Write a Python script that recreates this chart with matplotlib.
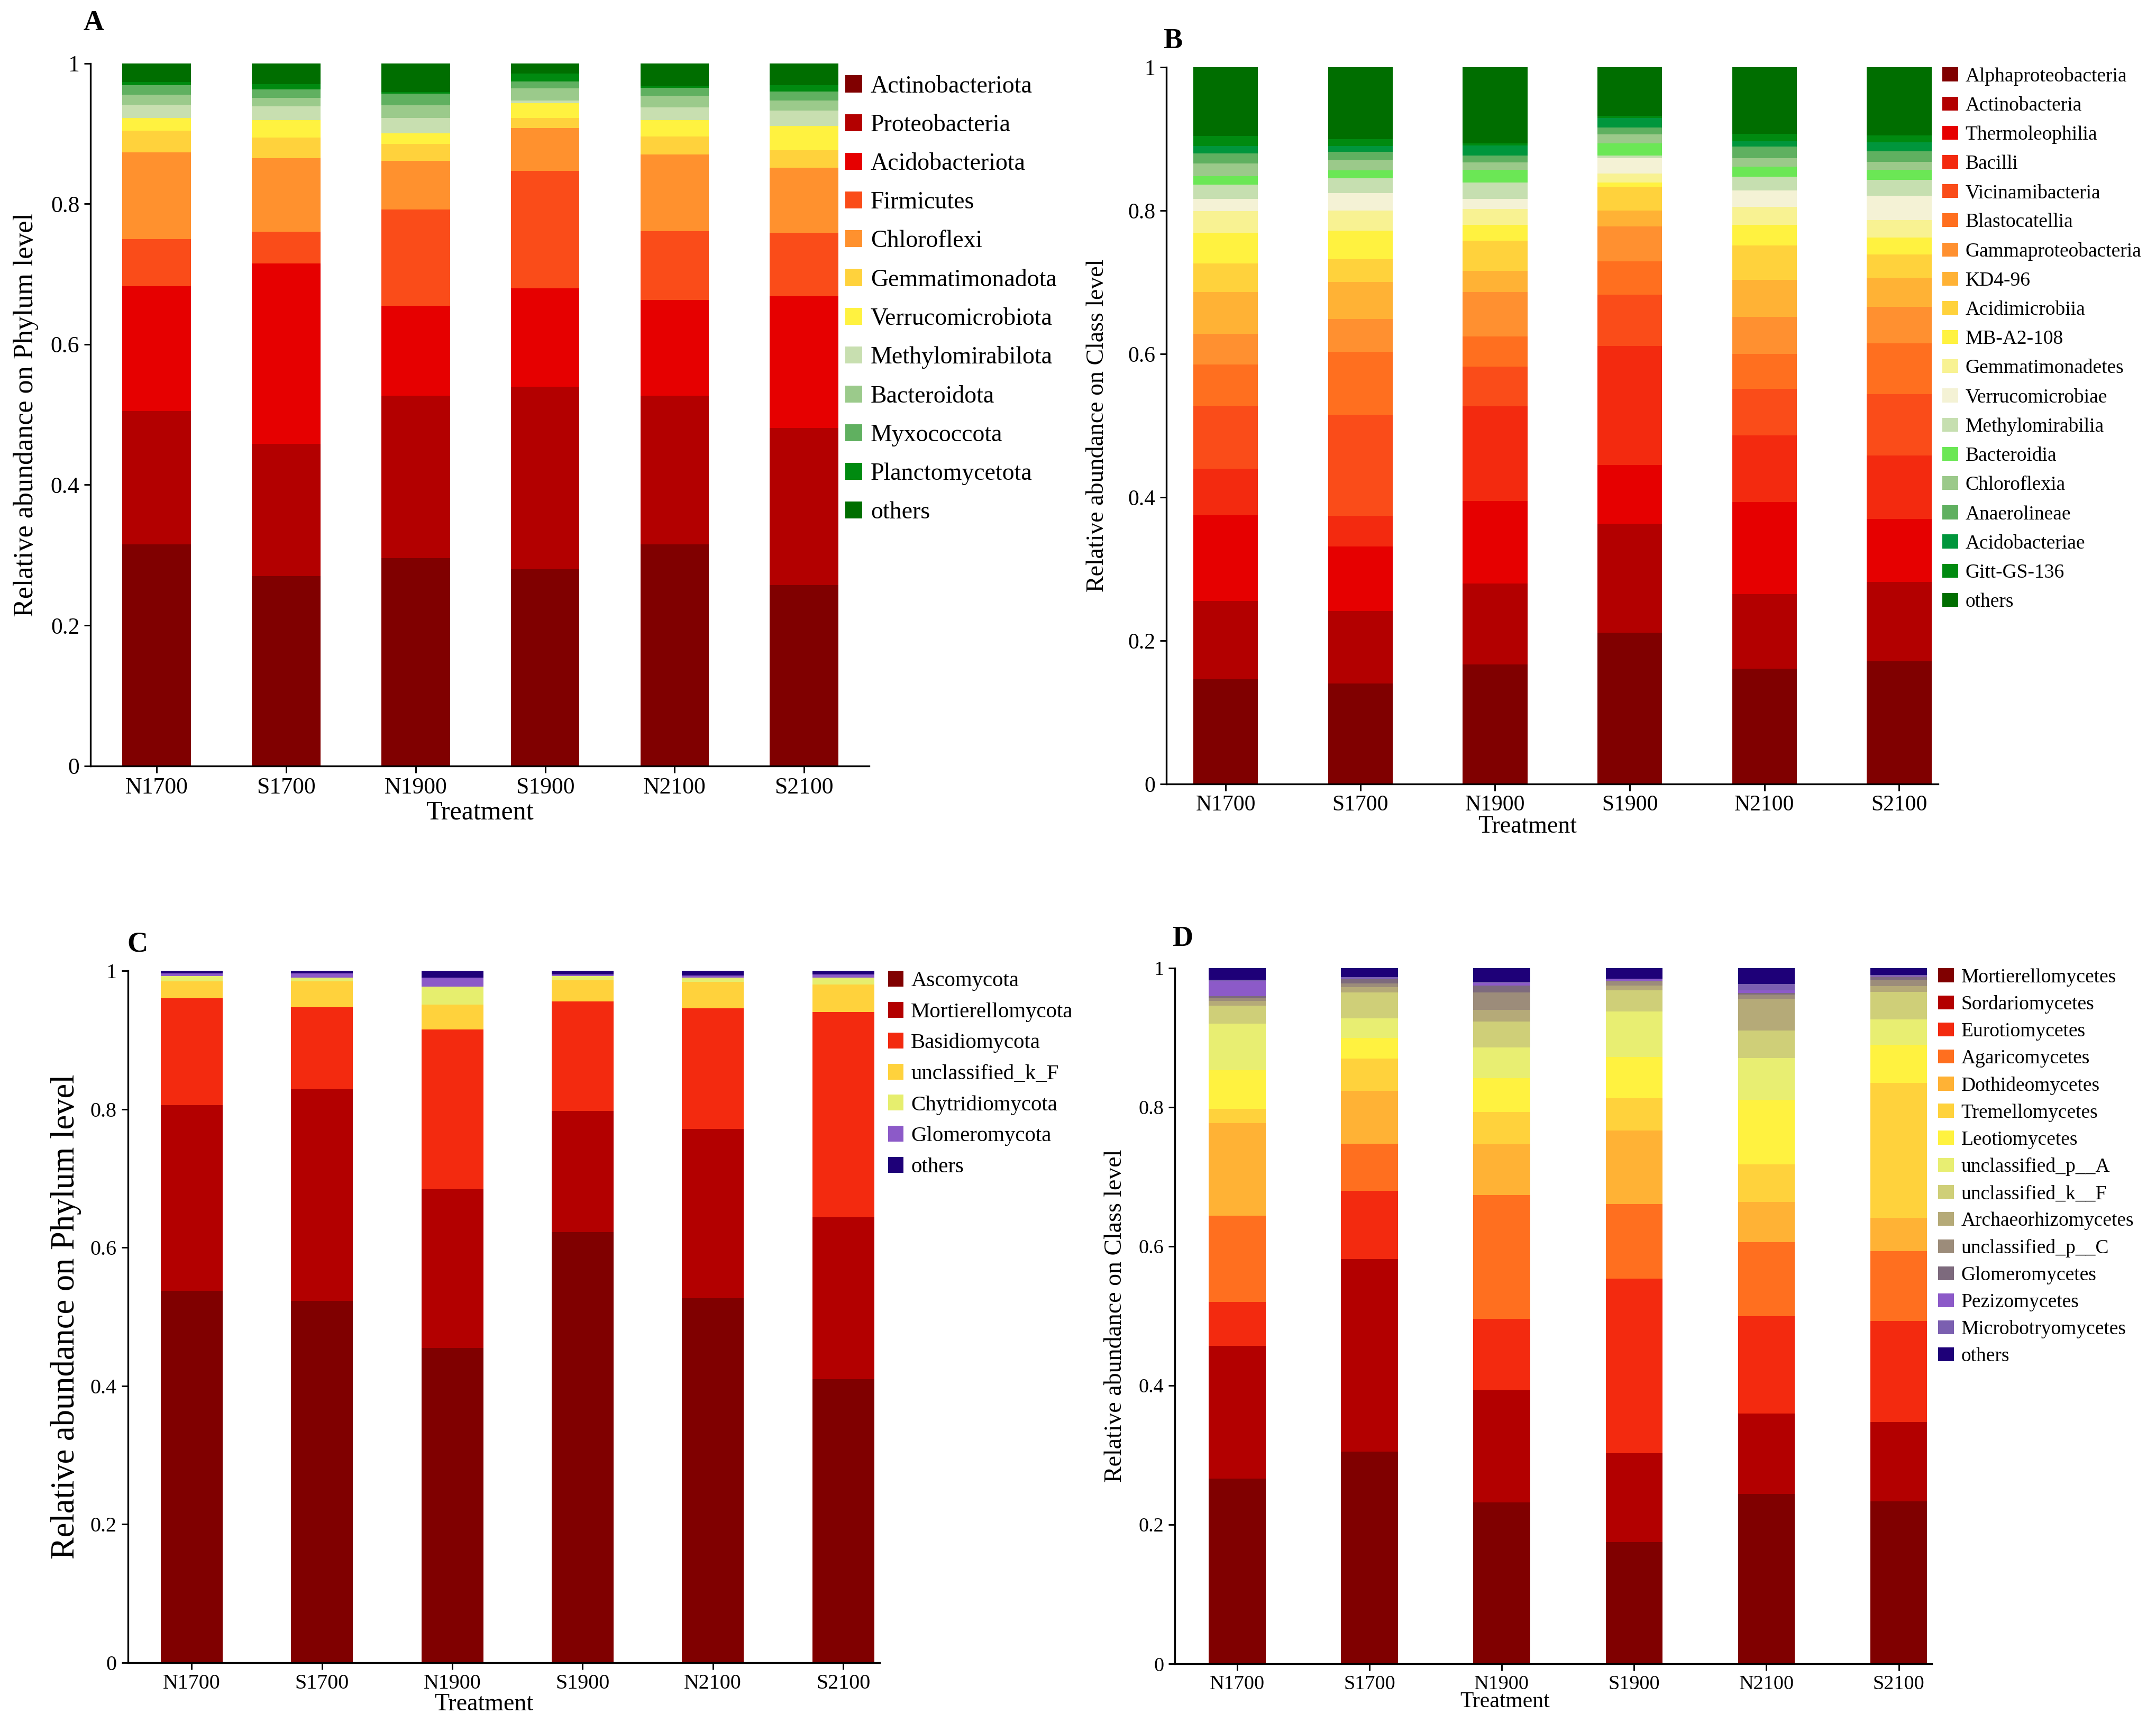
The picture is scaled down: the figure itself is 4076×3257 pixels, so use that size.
import numpy as np
import matplotlib.pyplot as plt
from matplotlib.patches import Patch

treatments = ['N1700', 'S1700', 'N1900', 'S1900', 'N2100', 'S2100']

# A - bacteria, phylum level (rows follow treatments, columns follow names)
bac_phylum_names = ['Actinobacteriota', 'Proteobacteria', 'Acidobacteriota', 'Firmicutes',
                    'Chloroflexi', 'Gemmatimonadota', 'Verrucomicrobiota', 'Methylomirabilota',
                    'Bacteroidota', 'Myxococcota', 'Planctomycetota', 'others']
bac_phylum_abund = [
    [0.315, 0.190, 0.178, 0.067, 0.123, 0.031, 0.018, 0.019, 0.014, 0.014, 0.004, 0.027],
    [0.270, 0.188, 0.257, 0.045, 0.105, 0.029, 0.025, 0.020, 0.012, 0.012, 0.007, 0.030],
    [0.296, 0.231, 0.128, 0.137, 0.069, 0.024, 0.015, 0.022, 0.018, 0.017, 0.002, 0.041],
    [0.280, 0.260, 0.140, 0.167, 0.061, 0.014, 0.021, 0.004, 0.017, 0.010, 0.011, 0.015],
    [0.315, 0.212, 0.136, 0.098, 0.109, 0.026, 0.023, 0.018, 0.017, 0.011, 0.002, 0.033],
    [0.257, 0.224, 0.187, 0.091, 0.092, 0.025, 0.035, 0.022, 0.014, 0.013, 0.009, 0.031],
]
bac_phylum_colors = ['#800000', '#b30000', '#e60000', '#fa4c19', '#ff912e', '#ffd23c',
                     '#fff240', '#c8dfb0', '#9bca8b', '#60b060', '#008a10', '#006e00']

# B - bacteria, class level
bac_class_names = ['Alphaproteobacteria', 'Actinobacteria', 'Thermoleophilia', 'Bacilli',
                   'Vicinamibacteria', 'Blastocatellia', 'Gammaproteobacteria', 'KD4-96',
                   'Acidimicrobiia', 'MB-A2-108', 'Gemmatimonadetes', 'Verrucomicrobiae',
                   'Methylomirabilia', 'Bacteroidia', 'Chloroflexia', 'Anaerolineae',
                   'Acidobacteriae', 'Gitt-GS-136', 'others']
bac_class_abund = [
    [0.146, 0.109, 0.120, 0.065, 0.088, 0.057, 0.043, 0.058, 0.040, 0.043, 0.030, 0.017, 0.020, 0.012, 0.018, 0.014, 0.010, 0.014, 0.096],
    [0.140, 0.101, 0.090, 0.043, 0.141, 0.088, 0.046, 0.051, 0.032, 0.040, 0.028, 0.024, 0.021, 0.011, 0.015, 0.011, 0.008, 0.010, 0.100],
    [0.167, 0.113, 0.115, 0.132, 0.055, 0.042, 0.062, 0.030, 0.042, 0.022, 0.022, 0.014, 0.023, 0.018, 0.010, 0.010, 0.014, 0.003, 0.106],
    [0.211, 0.152, 0.082, 0.166, 0.072, 0.046, 0.049, 0.022, 0.033, 0.006, 0.013, 0.021, 0.004, 0.017, 0.012, 0.010, 0.013, 0.003, 0.068],
    [0.161, 0.104, 0.128, 0.093, 0.065, 0.049, 0.052, 0.051, 0.048, 0.029, 0.025, 0.023, 0.019, 0.014, 0.012, 0.016, 0.008, 0.010, 0.093],
    [0.171, 0.111, 0.088, 0.088, 0.086, 0.071, 0.051, 0.040, 0.033, 0.023, 0.025, 0.034, 0.022, 0.014, 0.011, 0.015, 0.012, 0.010, 0.095],
]
bac_class_colors = ['#800000', '#b30000', '#e60000', '#f32a0f', '#fa4c19', '#ff6f1f', '#ff9030',
                    '#ffb235', '#ffd23c', '#fff240', '#f8f292', '#f4f2d5', '#c6dfb0', '#6be755',
                    '#9bc98a', '#5fb060', '#00963c', '#008a10', '#006e00']

# C - fungi, phylum level
fun_phylum_names = ['Ascomycota', 'Mortierellomycota', 'Basidiomycota', 'unclassified_k_F',
                    'Chytridiomycota', 'Glomeromycota', 'others']
fun_phylum_abund = [
    [0.537, 0.269, 0.154, 0.025, 0.007, 0.004, 0.004],
    [0.523, 0.306, 0.118, 0.038, 0.005, 0.006, 0.004],
    [0.455, 0.229, 0.231, 0.036, 0.026, 0.013, 0.010],
    [0.622, 0.175, 0.159, 0.030, 0.006, 0.003, 0.005],
    [0.527, 0.244, 0.175, 0.038, 0.006, 0.003, 0.007],
    [0.410, 0.234, 0.296, 0.040, 0.010, 0.005, 0.005],
]
fun_phylum_colors = ['#800000', '#b30000', '#f32a0f', '#ffd23c', '#e6ee6e', '#8c5ac8', '#1e0078']

# D - fungi, class level
fun_class_names = ['Mortierellomycetes', 'Sordariomycetes', 'Eurotiomycetes', 'Agaricomycetes',
                   'Dothideomycetes', 'Tremellomycetes', 'Leotiomycetes', 'unclassified_p__A',
                   'unclassified_k__F', 'Archaeorhizomycetes', 'unclassified_p__C',
                   'Glomeromycetes', 'Pezizomycetes', 'Microbotryomycetes', 'others']
fun_class_abund = [
    [0.266, 0.191, 0.063, 0.124, 0.133, 0.021, 0.055, 0.067, 0.026, 0.007, 0.004, 0.003, 0.021, 0.002, 0.017],
    [0.305, 0.277, 0.098, 0.068, 0.076, 0.046, 0.030, 0.028, 0.037, 0.008, 0.005, 0.006, 0.001, 0.002, 0.013],
    [0.232, 0.161, 0.103, 0.178, 0.073, 0.046, 0.049, 0.044, 0.037, 0.017, 0.025, 0.010, 0.004, 0.001, 0.020],
    [0.175, 0.128, 0.251, 0.107, 0.106, 0.046, 0.059, 0.066, 0.030, 0.007, 0.006, 0.001, 0.002, 0.001, 0.015],
    [0.244, 0.116, 0.140, 0.106, 0.058, 0.054, 0.093, 0.060, 0.039, 0.046, 0.006, 0.002, 0.004, 0.009, 0.023],
    [0.234, 0.114, 0.145, 0.100, 0.048, 0.194, 0.055, 0.036, 0.040, 0.008, 0.009, 0.005, 0.001, 0.001, 0.010],
]
fun_class_colors = ['#800000', '#b30000', '#f32a0f', '#ff6f1f', '#ffb235', '#ffd23c', '#fff240',
                    '#e8ee72', '#cfcf78', '#b5aa78', '#9c8c7a', '#7d6a7d', '#8c5ac8', '#7b5fb0',
                    '#1e0078']


def stacked_panel(fig, rect, names, abund, colors, width, xlim, ylabel, ylabel_x,
                  xlabel_xy, tick_fs, label_fs, xlabel_fs):
    ax = fig.add_axes(rect)
    abund = np.array(abund)
    x = np.arange(len(treatments))
    bottom = np.zeros(len(treatments))
    for j in range(len(names)):
        ax.bar(x, abund[:, j], width=width, bottom=bottom, color=colors[j],
               linewidth=0, label=names[j])
        bottom += abund[:, j]

    ax.set_xlim(xlim)
    ax.set_ylim(0, 1)
    ax.set_xticks(x)
    ax.set_xticklabels(treatments, fontsize=tick_fs)
    ax.set_yticks([0, 0.2, 0.4, 0.6, 0.8, 1.0])
    ax.set_yticklabels(['0', '0.2', '0.4', '0.6', '0.8', '1'], fontsize=tick_fs)
    ax.tick_params(direction='out', length=3, width=0.7, pad=2)
    for s in ['top', 'right']:
        ax.spines[s].set_visible(False)
    for s in ['left', 'bottom']:
        ax.spines[s].set_linewidth(0.8)
    ax.set_ylabel(ylabel, fontsize=label_fs)
    ax.yaxis.set_label_coords(ylabel_x, 0.5)
    ax.set_xlabel('Treatment', fontsize=xlabel_fs, labelpad=0)
    ax.xaxis.set_label_coords(xlabel_xy[0], xlabel_xy[1])
    return ax


def add_legend(fig, names, colors, anchor, fs, spacing, hl, hh):
    handles = [Patch(facecolor=c, edgecolor='none') for c in colors]
    fig.legend(handles, names, loc='upper left', bbox_to_anchor=anchor,
               bbox_transform=fig.transFigure, frameon=False, fontsize=fs,
               labelspacing=spacing, handlelength=hl, handleheight=hh,
               handletextpad=0.35, borderpad=0, borderaxespad=0)


def main():
    plt.rcParams['font.family'] = ['Liberation Serif', 'DejaVu Serif']

    fig = plt.figure(figsize=(4076 / 300, 3257 / 300), dpi=300)

    '''
    A: bacteria phylum
    '''
    stacked_panel(fig, [0.042, 0.5555, 0.361, 0.4078], bac_phylum_names, bac_phylum_abund,
                  bac_phylum_colors, 0.53, (-0.51, 5.5),
                  'Relative abundance on Phylum level', -0.067, (0.5, -0.049), 10.5, 12.5, 12)
    add_legend(fig, bac_phylum_names, bac_phylum_colors, (0.392, 0.9564), 11, 0.67, 0.7, 0.7)
    fig.text(68 / 1568, 1 - 17 / 1253, 'A', fontsize=13, fontweight='bold', ha='center', va='center')

    '''
    B: bacteria class
    '''
    stacked_panel(fig, [0.541, 0.545, 0.358, 0.416], bac_class_names, bac_class_abund,
                  bac_class_colors, 0.48, (-0.44, 5.29),
                  'Relative abundance on Class level', -0.075, (0.468, -0.044), 10, 11, 11)
    add_legend(fig, bac_class_names, bac_class_colors, (0.901, 0.9611), 9, 0.55, 0.8, 0.7)
    fig.text(853 / 1568, 1 - 30 / 1253, 'B', fontsize=13, fontweight='bold', ha='center', va='center')

    '''
    C: fungi phylum
    '''
    stacked_panel(fig, [0.0593, 0.0351, 0.3487, 0.4015], fun_phylum_names, fun_phylum_abund,
                  fun_phylum_colors, 0.475, (-0.49, 5.28),
                  'Relative abundance on Phylum level', -0.062, (0.4735, -0.044), 9.6, 15, 11)
    add_legend(fig, fun_phylum_names, fun_phylum_colors, (0.412, 0.4366), 9.8, 0.5, 0.7, 0.75)
    fig.text(100 / 1568, 1 - 687 / 1253, 'C', fontsize=13, fontweight='bold', ha='center', va='center')

    '''
    D: fungi class
    '''
    stacked_panel(fig, [0.545, 0.0343, 0.351, 0.4038], fun_class_names, fun_class_abund,
                  fun_class_colors, 0.43, (-0.47, 5.25),
                  'Relative abundance on Class level', -0.064, (0.436, -0.04), 9.2, 11, 10)
    add_legend(fig, fun_class_names, fun_class_colors, (0.899, 0.4381), 9, 0.44, 0.8, 0.7)
    fig.text(860 / 1568, 1 - 683 / 1253, 'D', fontsize=13, fontweight='bold', ha='center', va='center')

    fig.savefig('out.png', dpi=300)


if __name__ == "__main__":
    main()
